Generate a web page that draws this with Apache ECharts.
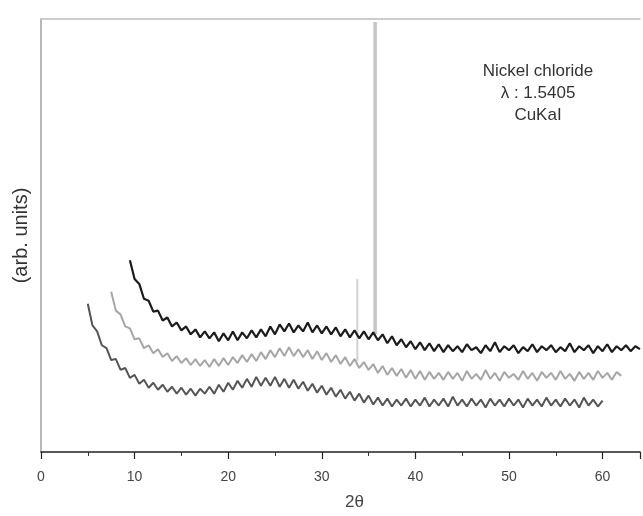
<!DOCTYPE html>
<html>
<head>
<meta charset="utf-8">
<script src="https://cdn.jsdelivr.net/npm/echarts@6/dist/echarts.min.js"></script>
<style>html,body{margin:0;padding:0;background:#fff}#c{width:643px;height:516px}</style>
</head>
<body>
<div id="c"></div>
<script>
// 2θ sampling positions (degrees)
const twoTheta = [5.0,5.5,6.0,6.5,7.0,7.5,8.0,8.5,9.0,9.5,10.0,10.5,11.0,11.5,12.0,12.5,13.0,13.5,14.0,14.5,
15.0,15.5,16.0,16.5,17.0,17.5,18.0,18.5,19.0,19.5,20.0,20.5,21.0,21.5,22.0,22.5,23.0,23.5,24.0,24.5,
25.0,25.5,26.0,26.5,27.0,27.5,28.0,28.5,29.0,29.5,30.0,30.5,31.0,31.5,32.0,32.5,33.0,33.5,34.0,34.5,
35.0,35.5,36.0,36.5,37.0,37.5,38.0,38.5,39.0,39.5,40.0,40.5,41.0,41.5,42.0,42.5,43.0,43.5,44.0,44.5,
45.0,45.5,46.0,46.5,47.0,47.5,48.0,48.5,49.0,49.5,50.0,50.5,51.0,51.5,52.0,52.5,53.0,53.5,54.0,54.5,
55.0,55.5,56.0,56.5,57.0,57.5,58.0,58.5,59.0,59.5,60.0,60.5,61.0,61.5,62.0,62.5,63.0,63.5,64.0];

// intensities (arb. units), null where the scan has no data
const topScan = [null,null,null,null,null,null,null,null,null,
194,175,170,155,153,142,143,133,136,127,
131,123,127,119,124,116,122,115,121,112,
120,113,122,113,121,115,123,116,124,117,
127,119,129,122,130,121,128,122,131,121,
128,120,127,119,126,117,124,116,123,115,
122,114,121,113,119,110,117,108,114,106,
112,104,111,103,110,102,109,101,108,102,
107,101,109,103,106,100,108,102,111,101,
107,103,108,100,106,102,109,101,107,103,
108,101,106,102,110,101,107,103,108,100,
107,102,109,101,107,103,108,102,107,104];

const middleScan = [null,null,null,null,null,
162,143,139,127,125,114,115,105,108,100,
104,96,100,92,97,90,95,88,94,87,
93,86,94,87,95,88,96,90,98,91,
99,92,101,94,103,96,105,97,106,97,
104,96,103,94,102,93,100,91,98,89,
96,87,94,85,91,83,89,80,87,78,
85,77,84,75,83,74,82,73,81,74,
80,73,81,74,80,72,82,74,79,73,
83,74,80,72,81,75,79,73,82,74,
80,72,81,75,80,73,82,74,79,72,
81,74,80,73,82,75,80,73,81,77,
null,null,null,null];

const bottomScan = [150,128,122,108,105,93,94,83,85,75,
78,69,73,65,70,63,68,61,66,59,
65,58,64,57,64,59,66,59,68,61,
70,63,72,65,74,66,76,67,75,67,
76,66,74,65,73,64,71,62,69,60,
67,58,65,56,63,54,61,52,59,50,
57,48,55,47,54,46,53,47,54,46,
53,47,55,46,53,47,54,46,56,47,
53,46,54,47,53,45,54,47,53,46,
54,47,53,45,54,47,53,46,55,47,
53,46,54,47,53,45,55,47,53,46,
52,null,null,null,null,null,null,null,null];

// sharp reflections
const peakTheta = [33.8, 35.7];
const peakBase  = [92, 119];
const peakTop   = [175, 435];

const xTicks = [0,10,20,30,40,50,60];
const noteLines = ['Nickel chloride', 'λ : 1.5405', 'CuKaI'];

function pairs(xs, ys){ return xs.map((x,i)=>[x, ys[i]]); }

const font = 'Liberation Sans, Arial, sans-serif';
const chart = echarts.init(document.getElementById('c'), null, {renderer:'canvas'});

const peakSeries = peakTheta.map((t,i)=>({
  type:'line', xAxisIndex:0, yAxisIndex:0, symbol:'none', silent:true,
  data:[[t, peakBase[i]],[t, peakTop[i]]],
  lineStyle:{color: i===1 ? '#c6c6c6' : '#d2d2d2', width: i===1 ? 3.5 : 2},
  z:1
}));

chart.setOption({
  animation:false,
  backgroundColor:'#fff',
  grid:{left:41, right:2, top:19, bottom:59},
  xAxis:[{
    type:'value', min:0, max:64, interval:10,
    name:'2θ', nameLocation:'middle', nameGap:42,
    nameTextStyle:{fontFamily:font, fontSize:17, color:'#444', padding:[0,0,0,28]},
    axisLine:{show:true, onZero:false, lineStyle:{color:'#222', width:1.5}},
    axisTick:{show:true, length:7, lineStyle:{color:'#222', width:1.2}},
    minorTick:{show:true, splitNumber:2, length:4, lineStyle:{color:'#333', width:1}},
    axisLabel:{fontFamily:font, fontSize:14, color:'#444', margin:18,
      formatter:v=> xTicks.includes(v) ? String(v) : ''},
    splitLine:{show:false}
  },{
    type:'value', min:0, max:64, position:'top',
    axisLine:{show:true, onZero:false, lineStyle:{color:'#bdbdbd', width:1.5}},
    axisTick:{show:false}, axisLabel:{show:false}, splitLine:{show:false}
  }],
  yAxis:{
    type:'value', min:0, max:438,
    name:'(arb. units)', nameLocation:'middle', nameGap:10,
    nameTextStyle:{fontFamily:font, fontSize:20, color:'#333'},
    axisLine:{show:true, onZero:false, lineStyle:{color:'#a0a0a0', width:1.5}},
    axisTick:{show:false}, axisLabel:{show:false}, splitLine:{show:false}
  },
  series:[
    ...peakSeries,
    {type:'line', symbol:'none', data:pairs(twoTheta, middleScan), lineStyle:{color:'#a6a6a6', width:2}, z:2},
    {type:'line', symbol:'none', data:pairs(twoTheta, bottomScan), lineStyle:{color:'#555555', width:2}, z:3},
    {type:'line', symbol:'none', data:pairs(twoTheta, topScan), lineStyle:{color:'#1c1c1c', width:2.2}, z:4}
  ],
  graphic: noteLines.map((t,i)=>({
    type:'text', x: 538, y: 63 + i*22,
    style:{text:t, fontFamily:font, fontSize:17, fill:'#333', textAlign:'center'}
  }))
});
</script>
</body>
</html>
